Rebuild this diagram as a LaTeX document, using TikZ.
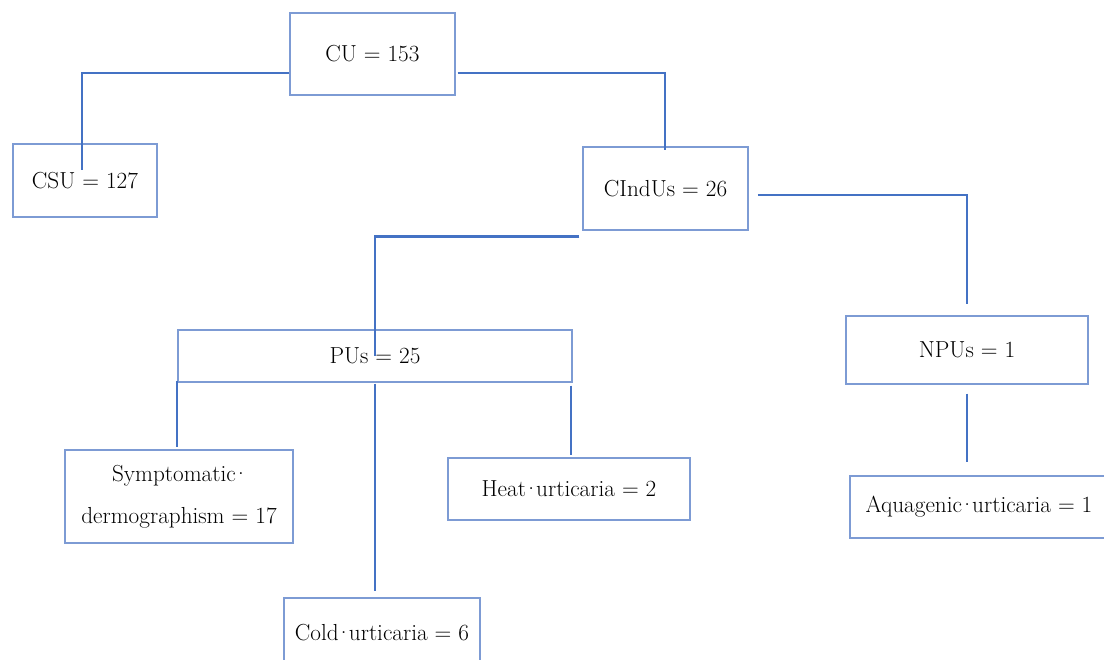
\documentclass[tikz,border=0pt]{standalone}
\usepackage{fontspec}
\usetikzlibrary{positioning}
\definecolor{linkblue}{RGB}{68,114,196}
\definecolor{boxblue}{RGB}{125,155,212}
\newcommand{\mdot}{\kern-.14em·\kern-.14em}

\begin{document}
\begin{tikzpicture}[box/.style={draw=boxblue,line width=1pt,fill=white,inner sep=0pt,align=center,font=\fontsize{16.5}{30}\selectfont},
link/.style={draw=linkblue,line width=1.6pt}]
%================================================================
%	Frame
\useasboundingbox (0,0) rectangle (27.6,-16.475);
\fill[white] (0,0) rectangle (27.6,-16.475);

%================================================================
%	Top level
\node[box, minimum width=4.125cm, minimum height=2.05cm] (cu) at (9.31,-1.35) {CU = 153};
\node[box, minimum width=3.6cm, minimum height=1.825cm] (csu) at (2.125,-4.51) {CSU = 127};
\node[box, minimum width=4.125cm, minimum height=2.075cm] (cindus) at (16.64,-4.71) {CIndUs = 26};
%----------------------------------------------------------------
\node[box, minimum width=9.85cm, minimum height=1.3cm] (pus) at (9.375,-8.9) {PUs = 25};
\node[box, minimum width=6.05cm, minimum height=1.7cm] (npus) at (24.175,-8.75) {NPUs = 1};

%================================================================
%	Bottom level
\node[box, minimum width=5.7cm, minimum height=2.325cm] (symp) at (4.475,-12.41) {Symptomatic\mdot\\dermographism = 17};
\node[box, minimum width=6.05cm, minimum height=1.55cm] (heat) at (14.225,-12.225) {Heat\mdot urticaria = 2};
\node[box, minimum width=4.9cm, minimum height=1.75cm] (cold) at (9.55,-15.825) {Cold\mdot urticaria = 6};
\node[box, minimum width=6.45cm, minimum height=1.55cm] (aqua) at (24.475,-12.675) {Aquagenic\mdot urticaria = 1};
%----------------------------------------------------------------
\coordinate (csuin) at (2.05,-4.25);
\coordinate (cindusin) at (16.625,-3.75);

%================================================================
%	Lines
\draw[link] ([yshift=-0.475cm]cu.west) -| (csuin);
\draw[link] ([xshift=0.05cm,yshift=-0.475cm]cu.east) -| (cindusin);
\draw[link] ([xshift=0.225cm,yshift=-0.165cm]cindus.east) -| ([yshift=0.275cm]npus.north);
\draw[link] ([yshift=-0.225cm]npus.south) -- ([yshift=0.325cm]aqua.north -| npus.south);
\draw[link] ([xshift=-0.075cm,yshift=-0.15cm]cindus.south west) -| (pus.center);
%----------------------------------------------------------------
\draw[link] ([yshift=0.05cm]pus.south west) -- ([yshift=0.05cm]symp.north -| pus.south west);
\draw[link] ([yshift=-0.025cm]pus.south) -- ([yshift=0.15cm]cold.north -| pus.south);
\draw[link] ([xshift=-0.05cm,yshift=-0.075cm]pus.south east) -- ([xshift=-0.05cm,yshift=0.05cm]heat.north -| pus.south east);
%================================================================
\end{tikzpicture}
\end{document}
